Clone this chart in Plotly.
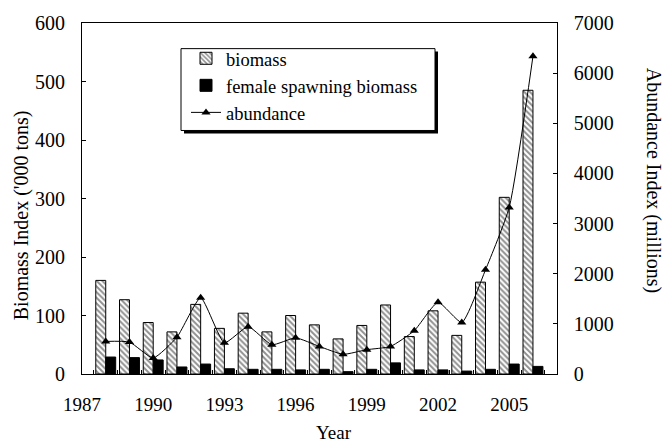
import plotly.graph_objects as go
from plotly.subplots import make_subplots

# Survey indices by year
years = [1988, 1989, 1990, 1991, 1992, 1993, 1994, 1995, 1996, 1997,
         1998, 1999, 2000, 2001, 2002, 2003, 2004, 2005, 2006]
biomass = [160, 127, 88, 72, 119, 78, 104, 72, 100, 84,
           60, 83, 118, 64, 108, 66, 157, 302, 485]
female_spawning = [29, 28, 24, 12, 17, 9, 8, 8, 7, 8,
                   4, 8, 19, 7, 7, 5, 8, 17, 13]
abundance = [650, 636, 320, 734, 1520, 623, 944, 584, 721, 550,
             393, 485, 550, 865, 1430, 1028, 2078, 3323, 6337]
year_ticks = [1987, 1990, 1993, 1996, 1999, 2002, 2005]

W, H = 670, 444
L, R, T, B = 82, 587, 18, 374  # plot area in pixels
FONT = "Liberation Serif, Times New Roman, serif"


def px_x(px):
    return (px - L) / (R - L)


def px_y(py):
    return (B - py) / (B - T)


fig = make_subplots(specs=[[{"secondary_y": True}]])

fig.add_trace(go.Bar(
    x=years, y=biomass, name="biomass",
    width=0.42, offset=-0.42,
    marker=dict(color="white", line=dict(color="black", width=1),
                pattern=dict(shape="\\", fgcolor="#222222", bgcolor="white",
                             size=4, solidity=0.5)),
), secondary_y=False)

fig.add_trace(go.Bar(
    x=years, y=female_spawning, name="female spawning biomass",
    width=0.42, offset=0,
    marker=dict(color="black", line=dict(color="black", width=1)),
), secondary_y=False)

fig.add_trace(go.Scatter(
    x=years, y=abundance, name="abundance", mode="lines+markers",
    line=dict(color="black", width=1, shape="spline", smoothing=0.5),
    marker=dict(symbol="triangle-up", size=8, color="black"),
), secondary_y=True)

fig.update_layout(
    width=W, height=H, autosize=False,
    margin=dict(l=L, r=W - R, t=T, b=H - B, pad=0),
    paper_bgcolor="white", plot_bgcolor="white",
    barmode="overlay",
    font=dict(family=FONT, size=20, color="black"),
    showlegend=True,
    legend=dict(
        x=px_x(186), y=px_y(35), xanchor="left", yanchor="top",
        bgcolor="rgba(0,0,0,0)", borderwidth=0,
        font=dict(family=FONT, size=18.5, color="black"),
        tracegroupgap=0, itemwidth=30,
    ),
    shapes=[
        # legend drop shadow and frame
        dict(type="rect", xref="paper", yref="paper",
             x0=px_x(184), x1=px_x(438), y0=px_y(47), y1=px_y(130),
             fillcolor="black", line=dict(width=0), layer="above"),
        dict(type="rect", xref="paper", yref="paper",
             x0=px_x(181), x1=px_x(435), y0=px_y(44), y1=px_y(127),
             fillcolor="white", line=dict(color="black", width=1), layer="above"),
    ],
    annotations=[
        dict(text="Year", xref="paper", yref="paper",
             x=px_x(334), y=px_y(433), xanchor="center", yanchor="middle",
             showarrow=False, font=dict(family=FONT, size=19)),
        dict(text="Biomass Index ('000 tons)", xref="paper", yref="paper",
             x=px_x(21), y=px_y(213), xanchor="center", yanchor="middle",
             textangle=-90, showarrow=False, font=dict(family=FONT, size=20)),
        dict(text="Abundance Index (millions)", xref="paper", yref="paper",
             x=px_x(653), y=px_y(178), xanchor="center", yanchor="middle",
             textangle=90, showarrow=False, font=dict(family=FONT, size=20)),
    ],
)

fig.update_xaxes(
    range=[1987, 2007], tickvals=year_ticks, ticktext=[str(y) for y in year_ticks],
    ticks="", ticklabelstandoff=13,
    showline=True, linecolor="black", linewidth=1, mirror=True,
    showgrid=False, zeroline=False,
    minor=dict(tick0=1987.5, dtick=1, ticks="inside", ticklen=4,
               tickcolor="black", showgrid=False),
    tickfont=dict(family=FONT, size=19),
)

fig.update_yaxes(
    range=[0, 600], dtick=100, ticks="inside", ticklen=4, tickcolor="black",
    ticklabelstandoff=12,
    showline=True, linecolor="black", linewidth=1,
    showgrid=False, zeroline=False,
    tickfont=dict(family=FONT, size=20),
    secondary_y=False,
)

fig.update_yaxes(
    range=[0, 7000], dtick=1000, ticks="inside", ticklen=4, tickcolor="black",
    ticklabelstandoff=12,
    showline=True, linecolor="black", linewidth=1,
    showgrid=False, zeroline=False,
    tickfont=dict(family=FONT, size=20),
    secondary_y=True,
)

fig.write_html("out.html")
